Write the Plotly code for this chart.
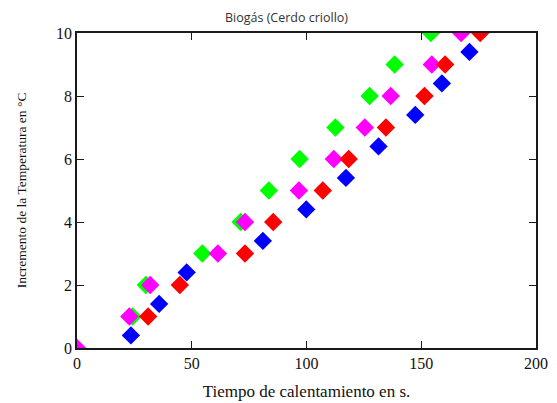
import plotly.graph_objects as go

# Data (time in s, temperature increment in ºC)
green_x = [24.2, 30.0, 54.6, 71.3, 83.6, 97.0, 112.6, 127.5, 138.4, 154.2]
green_y = [1, 2, 3, 4, 5, 6, 7, 8, 9, 10]

blue_x = [23.5, 35.8, 47.8, 81.0, 99.9, 117.2, 131.4, 147.4, 159.0, 171.0]
blue_y = [0.4, 1.4, 2.4, 3.4, 4.4, 5.4, 6.4, 7.4, 8.4, 9.4]

magenta_x = [0, 22.8, 31.9, 61.4, 73.2, 96.7, 111.9, 125.4, 136.7, 154.6, 167.4]
magenta_y = [0, 1, 2, 3, 4, 5, 6, 7, 8, 9, 10]

red_x = [31.0, 44.8, 73.2, 85.5, 107.1, 118.4, 134.6, 151.4, 160.4, 175.7]
red_y = [1, 2, 3, 4, 5, 6, 7, 8, 9, 10]

x_ticks = [0, 50, 100, 150, 200]
y_ticks = [0, 2, 4, 6, 8, 10]

series = [
    ("green", green_x, green_y, "#00FF00"),
    ("blue", blue_x, blue_y, "#0000FF"),
    ("magenta", magenta_x, magenta_y, "#FF00FF"),
    ("red", red_x, red_y, "#FF0000"),
]

fig = go.Figure()
for name, xs, ys, col in series:
    fig.add_trace(go.Scatter(
        x=xs, y=ys, mode="markers", name=name,
        marker=dict(symbol="diamond", size=12, color=col,
                    line=dict(color=col, width=2)),
        showlegend=False,
    ))

serif = "Liberation Serif, Times New Roman, serif"
axis_common = dict(
    showline=True, linecolor="#1a1a1a", linewidth=1.8, mirror="ticks",
    ticks="inside", ticklen=7, tickwidth=1.4, tickcolor="#1a1a1a",
    showgrid=False, zeroline=False,
    tickfont=dict(family=serif, size=16, color="#111"),
)

fig.update_xaxes(range=[0, 200], tickvals=x_ticks, **axis_common,
                 title=dict(text="Tiempo de calentamiento en s.",
                            font=dict(family=serif, size=17, color="#111"),
                            standoff=14))
fig.update_yaxes(range=[0, 10], tickvals=y_ticks, **axis_common,
                 title=dict(text="Incremento de la Temperatura en °C",
                            font=dict(family=serif, size=13.5, color="#111"),
                            standoff=26))

fig.update_layout(
    width=557, height=403,
    margin=dict(l=64, r=29, t=25, b=63),
    paper_bgcolor="white", plot_bgcolor="white",
    title=dict(text="Biogás (Cerdo criollo)", x=0.5, xanchor="center",
               y=0.975, yanchor="middle",
               font=dict(family="Open Sans, Noto Sans, sans-serif", size=12.5, color="#333")),
)

fig.write_html("out.html")
